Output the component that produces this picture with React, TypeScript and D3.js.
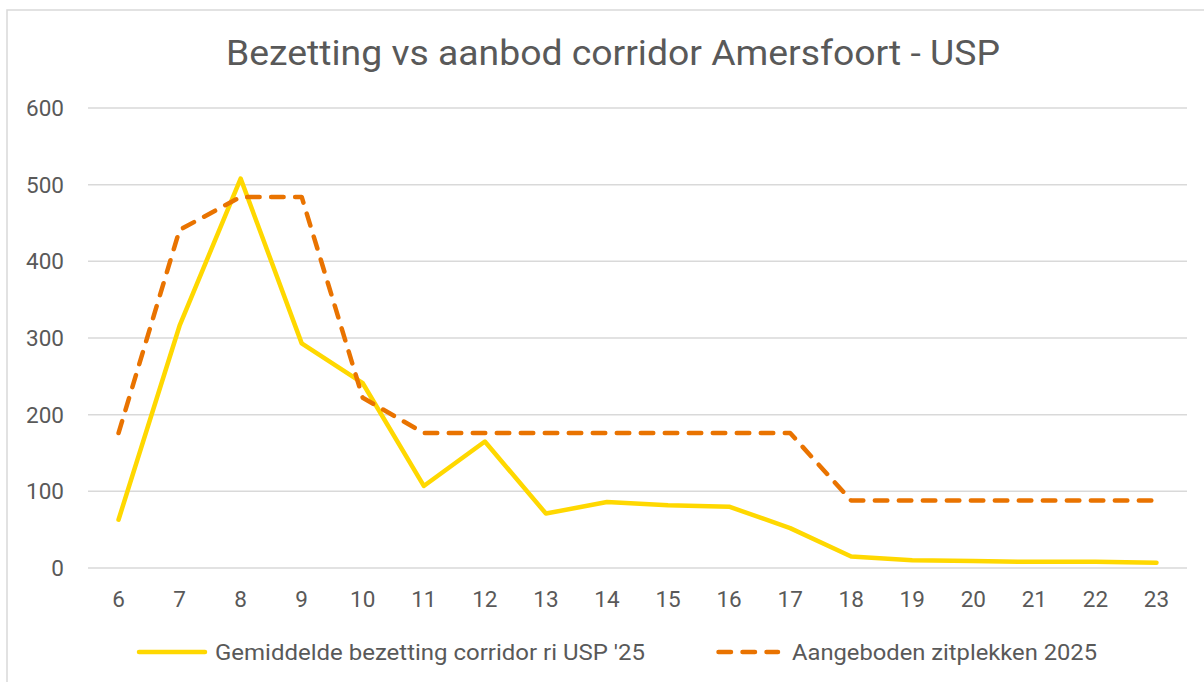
import React from "react";
import * as d3 from "d3";

const hours: string[] = ["6","7","8","9","10","11","12","13","14","15","16","17","18","19","20","21","22","23"];
const bezetting: number[] = [63, 316, 508, 293, 241, 107, 165, 71, 86, 82, 80, 52, 15, 10, 9, 8, 8, 7];
const aanbod: number[] = [176, 441, 484, 484, 222, 176, 176, 176, 176, 176, 176, 176, 88, 88, 88, 88, 88, 88];
const yTicks: number[] = [0, 100, 200, 300, 400, 500, 600];
const titleText = "Bezetting vs aanbod corridor Amersfoort - USP";
const seriesNames: string[] = ["Gemiddelde bezetting corridor ri USP '25", "Aangeboden zitplekken 2025"];

const W = 1204;
const H = 682;
const FONT = "Roboto, 'Open Sans', sans-serif";
const TEXT = "#595959";
const YELLOW = "#FFD800";
const ORANGE = "#E97300";

export default function App() {
  const x = d3.scaleBand<string>().domain(hours).range([88, 1187]);
  const y = d3.scaleLinear().domain([0, 600]).range([568, 108]);
  const px = (i: number) => (x(hours[i]) as number) + x.bandwidth() / 2;
  const line = d3.line<number>().x((_, i) => px(i)).y((v) => y(v));

  return (
    <svg width={W} height={H} style={{ position: "absolute", left: 0, top: 0, background: "#fff" }}>
      <rect x={7} y={10} width={1220} height={700} fill="#fff" stroke="#d9d9d9" strokeWidth={1.5} />
      <text x={226} y={65} textLength={774} lengthAdjust="spacingAndGlyphs" fontFamily={FONT} fontSize={35} fill={TEXT}>{titleText}</text>
      {yTicks.map((t) => (
        <g key={t}>
          <line x1={88} x2={1187} y1={y(t)} y2={y(t)} stroke="#d9d9d9" strokeWidth={1.5} />
          <text x={64} y={y(t)} dy="0.36em" textAnchor="end" fontFamily={FONT} fontSize={22.5} fill={TEXT}>{t}</text>
        </g>
      ))}
      {hours.map((h, i) => (
        <text key={h} x={px(i)} y={607} textAnchor="middle" fontFamily={FONT} fontSize={22.5} fill={TEXT}>{h}</text>
      ))}
      <path d={line(bezetting) || ""} fill="none" stroke={YELLOW} strokeWidth={4.5} strokeLinejoin="round" strokeLinecap="round" />
      <path d={line(aanbod) || ""} fill="none" stroke={ORANGE} strokeWidth={4.5} strokeLinejoin="round" strokeLinecap="round" strokeDasharray="12.5 11.5" />
      <g>
        <line x1={139} x2={205} y1={652} y2={652} stroke={YELLOW} strokeWidth={4.5} strokeLinecap="round" />
        <text x={215} y={652} dy="0.36em" textLength={430} lengthAdjust="spacingAndGlyphs" fontFamily={FONT} fontSize={22.5} fill={TEXT}>{seriesNames[0]}</text>
        <line x1={718.5} x2={778} y1={652} y2={652} stroke={ORANGE} strokeWidth={4.5} strokeLinecap="round" strokeDasharray="12.5 11.5" />
        <text x={792} y={652} dy="0.36em" textLength={305} lengthAdjust="spacingAndGlyphs" fontFamily={FONT} fontSize={22.5} fill={TEXT}>{seriesNames[1]}</text>
      </g>
    </svg>
  );
}
